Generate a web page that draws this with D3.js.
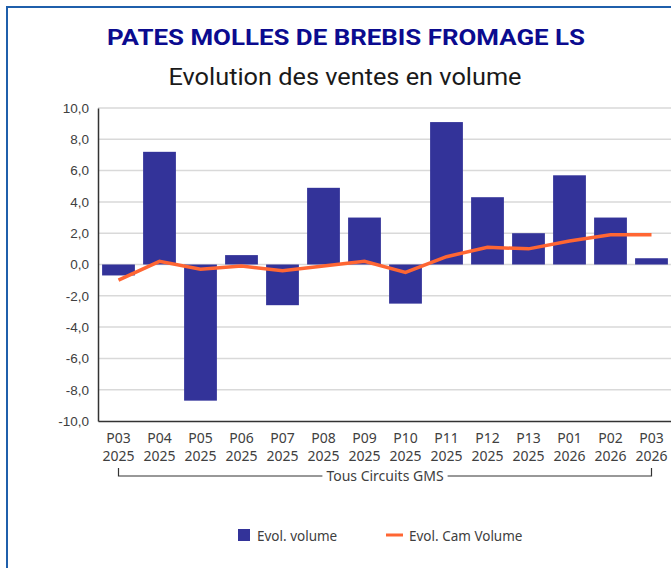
<!DOCTYPE html>
<html>
<head>
<meta charset="utf-8">
<script src="https://cdn.jsdelivr.net/npm/d3@7"></script>
<style>
  body { margin: 0; background: #fff; }
  svg { display: block; font-family: "Noto Sans", "Open Sans", sans-serif; }
</style>
</head>
<body>
<script>
// periods (two-line labels)
var periods = ["P03", "P04", "P05", "P06", "P07", "P08", "P09", "P10", "P11", "P12", "P13", "P01", "P02", "P03"];
var years = ["2025", "2025", "2025", "2025", "2025", "2025", "2025", "2025", "2025", "2025", "2025", "2026", "2026", "2026"];
var evolVolume = [-0.7, 7.2, -8.7, 0.6, -2.6, 4.9, 3.0, -2.5, 9.1, 4.3, 2.0, 5.7, 3.0, 0.4];
var evolCam = [-1.0, 0.2, -0.3, -0.1, -0.4, -0.1, 0.2, -0.5, 0.5, 1.1, 1.0, 1.5, 1.9, 1.9];
var yTicks = [-10, -8, -6, -4, -2, 0, 2, 4, 6, 8, 10];

var W = 671, H = 568;
var margin = {top: 108, right: 0, bottom: 147, left: 98};
var width = W - margin.left - margin.right + 1,
    height = H - margin.top - margin.bottom;

var svg = d3.select("body").append("svg")
  .attr("width", W)
  .attr("height", H);

// frame
svg.append("rect")
  .attr("x", 7).attr("y", 7)
  .attr("width", W + 20).attr("height", H + 20)
  .attr("fill", "none")
  .attr("stroke", "#1f5fab")
  .attr("stroke-width", 2);

// titles
svg.append("text")
  .attr("x", 346).attr("y", 44.5)
  .attr("text-anchor", "middle")
  .attr("textLength", 478)
  .attr("lengthAdjust", "spacingAndGlyphs")
  .style("font-family", "Roboto")
  .style("font-weight", "bold")
  .style("font-size", "22.5px")
  .style("fill", "#0b0b8f")
  .text("PATES MOLLES DE BREBIS FROMAGE LS");
svg.append("text")
  .attr("x", 345).attr("y", 85)
  .attr("text-anchor", "middle")
  .attr("textLength", 353)
  .attr("lengthAdjust", "spacingAndGlyphs")
  .style("font-family", "Roboto")
  .style("font-size", "24.5px")
  .style("fill", "#1a1a1a")
  .text("Evolution des ventes en volume");

var g = svg.append("g")
  .attr("transform", "translate(" + margin.left + "," + margin.top + ")");

var x = d3.scaleBand()
  .domain(d3.range(periods.length))
  .range([0, width])
  .paddingInner(0.2)
  .paddingOuter(0.1);

var y = d3.scaleLinear()
  .domain([-10, 10])
  .range([height, 0]);

// grid lines
g.selectAll(".grid")
  .data(yTicks.filter(function(d) { return d > -10; }))
  .enter().append("line")
  .attr("class", "grid")
  .attr("x1", 0).attr("x2", width)
  .attr("y1", function(d) { return y(d); })
  .attr("y2", function(d) { return y(d); })
  .attr("stroke", "#d9d9d9")
  .attr("stroke-width", 1.5);

// y axis
var yAxis = g.append("g")
  .call(d3.axisLeft(y).tickValues(yTicks).tickSize(0).tickPadding(9)
    .tickFormat(function(d) { return d3.format(".1f")(d).replace(".", ",").replace("−", "-"); }));
yAxis.select(".domain").attr("stroke", "#333").attr("stroke-width", 1.5);
yAxis.selectAll("text")
  .style("font-size", "13.5px")
  .style("fill", "#404040");

// bars
g.selectAll(".bar")
  .data(evolVolume)
  .enter().append("rect")
  .attr("class", "bar")
  .attr("x", function(d, i) { return x(i); })
  .attr("width", x.bandwidth())
  .attr("y", function(d) { return y(Math.max(0, d)); })
  .attr("height", function(d) { return Math.abs(y(d) - y(0)); })
  .attr("fill", "#333399");

// x axis (bottom)
var xAxis = g.append("g")
  .attr("transform", "translate(0," + height + ")")
  .call(d3.axisBottom(x).tickSize(0).tickFormat(""));
xAxis.select(".domain").attr("stroke", "#333").attr("stroke-width", 1.5);

var labels = g.selectAll(".xlab")
  .data(periods)
  .enter().append("text")
  .attr("class", "xlab")
  .attr("text-anchor", "middle")
  .style("font-size", "14px")
  .style("fill", "#404040");
labels.append("tspan")
  .attr("x", function(d, i) { return x(i) + x.bandwidth() / 2; })
  .attr("y", height + 22)
  .text(function(d) { return d; });
labels.append("tspan")
  .attr("x", function(d, i) { return x(i) + x.bandwidth() / 2; })
  .attr("y", height + 40)
  .text(function(d, i) { return years[i]; });

// group bracket
var xa = x(0) + x.bandwidth() / 2,
    xb = x(periods.length - 1) + x.bandwidth() / 2,
    by = height + 55,
    mid = (xa + xb) / 2;
var groupLabel = g.append("text")
  .attr("x", mid).attr("y", by + 5)
  .attr("text-anchor", "middle")
  .style("font-size", "14px")
  .style("fill", "#404040")
  .text("Tous Circuits GMS");
var tw = groupLabel.node().getComputedTextLength() / 2 + 4;
g.append("path")
  .attr("d", "M" + xa + "," + (by - 8) + "V" + by + "H" + (mid - tw) +
             "M" + (mid + tw) + "," + by + "H" + xb + "V" + (by - 8))
  .attr("fill", "none")
  .attr("stroke", "#333")
  .attr("stroke-width", 1.2);

// CAM line
var line = d3.line()
  .x(function(d, i) { return x(i) + x.bandwidth() / 2; })
  .y(function(d) { return y(d); });
g.append("path")
  .datum(evolCam)
  .attr("d", line)
  .attr("fill", "none")
  .attr("stroke", "#ff6633")
  .attr("stroke-width", 3.5);

// legend
var legend = svg.append("g").attr("transform", "translate(0,535)");
legend.append("rect")
  .attr("x", 238).attr("y", -6)
  .attr("width", 12).attr("height", 12)
  .attr("fill", "#333399");
legend.append("text")
  .attr("x", 257).attr("y", 6)
  .style("font-size", "13.5px")
  .style("fill", "#404040")
  .text("Evol. volume");
legend.append("line")
  .attr("x1", 386).attr("x2", 403)
  .attr("y1", 0).attr("y2", 0)
  .attr("stroke", "#ff6633")
  .attr("stroke-width", 3);
legend.append("text")
  .attr("x", 409).attr("y", 6)
  .style("font-size", "13.5px")
  .style("fill", "#404040")
  .text("Evol. Cam Volume");
</script>
</body>
</html>
